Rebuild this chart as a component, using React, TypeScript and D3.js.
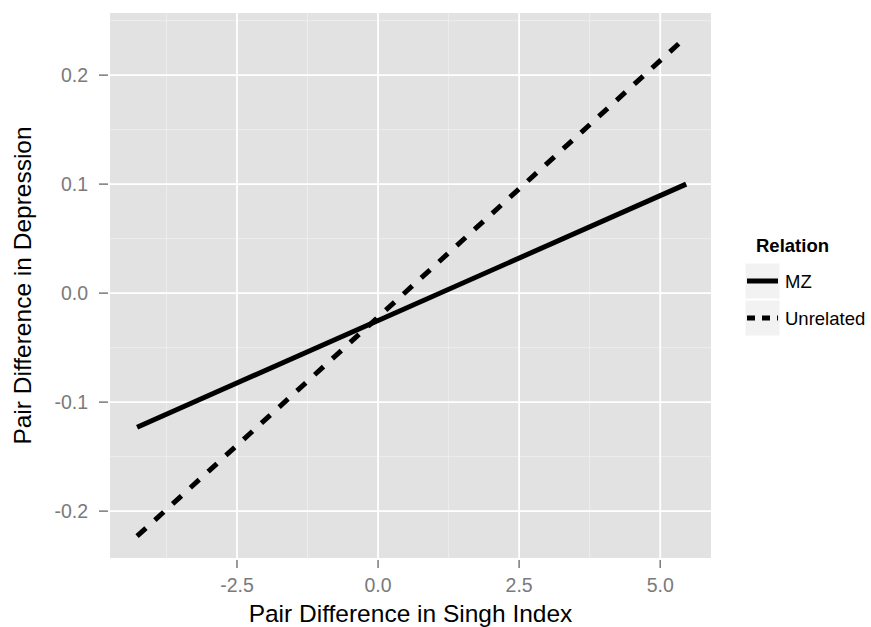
import React from "react";
import * as d3 from "d3";

const relations = ["MZ", "Unrelated"];
const xStart = [-4.27, -4.27];
const xEnd = [5.46, 5.46];
const yStart = [-0.123, -0.223];
const yEnd = [0.1, 0.235];
const xTicks = [-2.5, 0.0, 2.5, 5.0];
const yTicks = [-0.2, -0.1, 0.0, 0.1, 0.2];
const xTickLabels = ["-2.5", "0.0", "2.5", "5.0"];
const yTickLabels = ["-0.2", "-0.1", "0.0", "0.1", "0.2"];
const dashes = ["none", "12,12"];

export default function App() {
  const W = 871, H = 627;
  const left = 110, right = 711, top = 13, bottom = 558;
  const x = d3.scaleLinear().domain([-4.75, 5.9]).range([left, right]);
  const y = d3.scaleLinear().domain([-0.243, 0.257]).range([bottom, top]);
  const xMinor = xTicks.slice(0, -1).map((t, i) => (t + xTicks[i + 1]) / 2).concat([xTicks[0] - 1.25]);
  const yMinor = yTicks.slice(0, -1).map((t, i) => (t + yTicks[i + 1]) / 2).concat([yTicks[yTicks.length - 1] + 0.05]);
  const line = d3.line<[number, number]>().x(d => x(d[0])).y(d => y(d[1]));
  const font = "Liberation Sans, Arial, sans-serif";
  return (
    <svg width={W} height={H} style={{ position: "absolute", left: 0, top: 0 }} fontFamily={font}>
      <rect x={0} y={0} width={W} height={H} fill="#fff" />
      <rect x={left} y={top} width={right - left} height={bottom - top} fill="#e2e2e2" />
      {xMinor.filter(v => x(v) > left && x(v) < right).map((v, i) => (
        <line key={"xm" + i} x1={x(v)} x2={x(v)} y1={top} y2={bottom} stroke="#f0f0f0" strokeWidth={0.8} />
      ))}
      {yMinor.filter(v => y(v) > top && y(v) < bottom).map((v, i) => (
        <line key={"ym" + i} x1={left} x2={right} y1={y(v)} y2={y(v)} stroke="#f0f0f0" strokeWidth={0.8} />
      ))}
      {xTicks.map((v, i) => (
        <line key={"xg" + i} x1={x(v)} x2={x(v)} y1={top} y2={bottom} stroke="#fff" strokeWidth={1.8} />
      ))}
      {yTicks.map((v, i) => (
        <line key={"yg" + i} x1={left} x2={right} y1={y(v)} y2={y(v)} stroke="#fff" strokeWidth={1.8} />
      ))}
      {relations.map((r, i) => (
        <path key={r} d={line([[xStart[i], yStart[i]], [xEnd[i], yEnd[i]]]) || ""} stroke="#000" strokeWidth={5}
          fill="none" strokeDasharray={dashes[i]} />
      ))}
      {xTicks.map((v, i) => (
        <g key={"xt" + i}>
          <line x1={x(v)} x2={x(v)} y1={bottom + 2} y2={bottom + 10} stroke="#7a7a7a" strokeWidth={1.5} />
          <text x={x(v)} y={592} textAnchor="middle" fontSize={19.5} fill="#7a7a7a">{xTickLabels[i]}</text>
        </g>
      ))}
      {yTicks.map((v, i) => (
        <g key={"yt" + i}>
          <line x1={left - 11} x2={left - 2} y1={y(v)} y2={y(v)} stroke="#7a7a7a" strokeWidth={1.5} />
          <text x={88} y={y(v) + 7} textAnchor="end" fontSize={19.5} fill="#7a7a7a">{yTickLabels[i]}</text>
        </g>
      ))}
      <text x={(left + right) / 2} y={622} textAnchor="middle" fontSize={24.5} fill="#000">Pair Difference in Singh Index</text>
      <text transform={`translate(31,${(top + bottom) / 2}) rotate(-90)`} textAnchor="middle" fontSize={24.5} fill="#000">Pair Difference in Depression</text>
      <text x={756} y={252} fontSize={18.5} fontWeight="bold" fill="#000">Relation</text>
      {relations.map((r, i) => (
        <g key={"lg" + r}>
          <rect x={745} y={263 + i * 37} width={35} height={36} fill="#f2f2f2" stroke="#fff" strokeWidth={1} />
          <line x1={747} x2={778} y1={281 + i * 37} y2={281 + i * 37} stroke="#000" strokeWidth={5}
            strokeDasharray={i === 1 ? "8,7" : "none"} />
          <text x={785} y={288 + i * 37} fontSize={18.5} fill="#000">{r}</text>
        </g>
      ))}
    </svg>
  );
}
